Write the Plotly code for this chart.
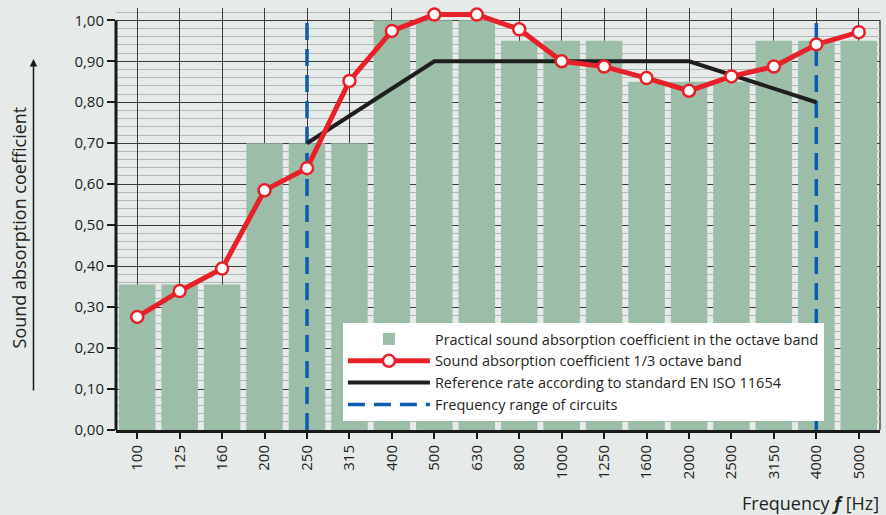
import plotly.graph_objects as go

# ---- data ----
frequencies = ["100", "125", "160", "200", "250", "315", "400", "500", "630",
               "800", "1000", "1250", "1600", "2000", "2500", "3150", "4000", "5000"]
octave_band = [0.355, 0.355, 0.355, 0.70, 0.70, 0.70, 1.00, 1.00, 1.00,
               0.95, 0.95, 0.95, 0.85, 0.85, 0.85, 0.95, 0.95, 0.95]
third_octave = [0.276, 0.339, 0.394, 0.585, 0.639, 0.852, 0.974, 1.014, 1.014,
                0.978, 0.900, 0.887, 0.859, 0.828, 0.863, 0.887, 0.941, 0.971]
ref_freqs = ["250", "500", "2000", "4000"]
ref_values = [0.70, 0.90, 0.90, 0.80]
range_freqs = ["250", "4000"]
y_ticks = [0.0, 0.1, 0.2, 0.3, 0.4, 0.5, 0.6, 0.7, 0.8, 0.9, 1.0]

BG = "#e6ebe9"
TXT = "#231f20"
FONT = "Open Sans"

fig = go.Figure()

fig.add_trace(go.Bar(
    x=frequencies, y=octave_band, width=0.86,
    marker=dict(color="#9cbea9", line=dict(width=0)),
    name="Practical sound absorption coefficient in the octave band",
    legendrank=1,
))

for i, f in enumerate(range_freqs):
    fig.add_trace(go.Scatter(
        x=[f, f], y=[0, 1.0], mode="lines",
        line=dict(color="#0b5cb0", width=3.5, dash="17px,9px"),
        name="Frequency range of circuits",
        showlegend=(i == 0), legendrank=4,
    ))

fig.add_trace(go.Scatter(
    x=ref_freqs, y=ref_values, mode="lines",
    line=dict(color="#1e1e1e", width=4),
    name="Reference rate according to standard EN ISO 11654",
    legendrank=3,
))

fig.add_trace(go.Scatter(
    x=frequencies, y=third_octave, mode="lines+markers",
    line=dict(color="#e8202a", width=5),
    marker=dict(size=12, color="white", line=dict(color="#e8202a", width=2.5)),
    name="Sound absorption coefficient 1/3 octave band",
    cliponaxis=False, legendrank=2,
))

fig.update_layout(
    width=886, height=515,
    margin=dict(l=116, r=6, t=8, b=85),
    paper_bgcolor=BG, plot_bgcolor=BG,
    separators=",.",
    font=dict(family=FONT, color=TXT, size=15),
    showlegend=True,
    legend=dict(
        x=0.297, y=0.2536, xanchor="left", yanchor="top",
        bgcolor="white", borderwidth=0,
        font=dict(size=14.5, color=TXT, family=FONT),
        itemwidth=82, traceorder="normal",
    ),
    xaxis=dict(
        type="category", categoryorder="array", categoryarray=frequencies,
        range=[-0.5, len(frequencies) - 0.5],
        showgrid=True, gridcolor="#3a3a3a", gridwidth=1.3,
        ticks="outside", ticklen=6, tickwidth=1.5, tickcolor="#1a1a1a",
        tickangle=-90, tickfont=dict(size=15),
        showline=True, linewidth=3, linecolor="#1a1a1a",
        zeroline=False, fixedrange=True,
    ),
    yaxis=dict(
        range=[0, 1.03], tickvals=y_ticks, tickformat=".2f",
        showgrid=True, gridcolor="#3a3a3a", gridwidth=1.3,
        minor=dict(dtick=0.02, tick0=0, showgrid=True, gridcolor="#b4b9b7", gridwidth=1),
        ticks="outside", ticklen=8, tickwidth=2, tickcolor="#1a1a1a",
        tickfont=dict(size=15),
        showline=False, zeroline=False,
    ),
    bargap=0.14,
)

# mask the strip above 1,00 (kept only so the curve above 1,00 is not clipped)
fig.add_shape(type="rect", xref="paper", yref="y", x0=0, x1=1.0, y0=1.004, y1=1.04,
              fillcolor=BG, line=dict(width=0), layer="between")
# left axis line and right border, ending at 1,00
fig.add_shape(type="line", xref="paper", yref="y", x0=0, x1=0, y0=0, y1=1.0,
              line=dict(color="#1a1a1a", width=3), layer="above")
fig.add_shape(type="line", xref="paper", yref="y", x0=1, x1=1, y0=0, y1=1.0,
              line=dict(color="#3a3a3a", width=1.3), layer="between")

# axis titles
fig.add_annotation(text="Sound absorption coefficient", textangle=-90,
                   xref="paper", yref="paper", x=-0.127, y=0.48,
                   xanchor="center", yanchor="middle", showarrow=False,
                   font=dict(size=18, color=TXT, family=FONT))
fig.add_annotation(text="", xref="paper", yref="paper", x=-0.108, y=0.879,
                   ax=0, ay=333, axref="pixel", ayref="pixel",
                   showarrow=True, arrowhead=2, arrowsize=1, arrowwidth=1.5,
                   arrowcolor="#1a1a1a", standoff=0, startstandoff=0)
fig.add_annotation(text="Frequency <b><i>f</i></b> [Hz]",
                   xref="paper", yref="paper", x=1.001, y=-0.173,
                   xanchor="right", yanchor="middle", showarrow=False,
                   font=dict(size=18, color=TXT, family=FONT))

fig.write_html(
    "out.html",
    config={"displayModeBar": False},
    post_script="document.body.style.margin='0';document.body.style.background='" + BG + "';",
)
